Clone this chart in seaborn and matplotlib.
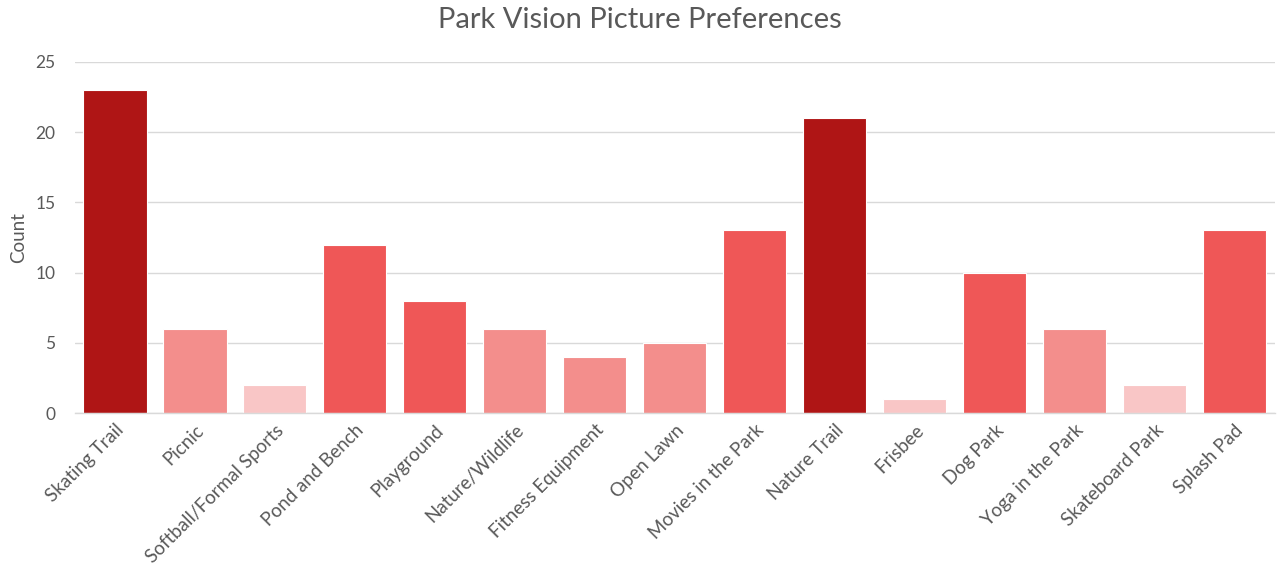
import matplotlib
matplotlib.use("Agg")
import matplotlib.pyplot as plt
import seaborn as sns
import pandas as pd

categories = ["Skating Trail", "Picnic", "Softball/Formal Sports", "Pond and Bench",
              "Playground", "Nature/Wildlife", "Fitness Equipment", "Open Lawn",
              "Movies in the Park", "Nature Trail", "Frisbee", "Dog Park",
              "Yoga in the Park", "Skateboard Park", "Splash Pad"]
counts = [23, 6, 2, 12, 8, 6, 4, 5, 13, 21, 1, 10, 6, 2, 13]


def tier_color(v):
    if v >= 20:
        return "#AF1515"
    if v >= 8:
        return "#EF5757"
    if v >= 4:
        return "#F38E8C"
    return "#F9C6C6"


df = pd.DataFrame({"category": categories, "count": counts})
palette = {c: tier_color(v) for c, v in zip(categories, counts)}

sns.set_style("white")
plt.rcParams["font.family"] = ["Lato", "DejaVu Sans"]
text_col = "#595959"

fig = plt.figure(figsize=(12.79, 5.73), dpi=100)
ax = fig.add_axes([0.0586, 0.279, 0.938, 0.613])

sns.barplot(data=df, x="category", y="count", hue="category", palette=palette,
            saturation=1, width=0.79, edgecolor="white", linewidth=0.8,
            legend=False, ax=ax)

ax.set_ylim(0, 25)
ax.set_xlim(-0.5, len(categories) - 0.5)
ax.set_yticks(range(0, 26, 5))
ax.yaxis.grid(True, color="#D9D9D9", linewidth=1)
ax.set_axisbelow(True)
for s in ["top", "right", "left"]:
    ax.spines[s].set_visible(False)
ax.spines["bottom"].set_color("#D9D9D9")
ax.spines["bottom"].set_linewidth(1)

ax.tick_params(axis="x", length=0, colors=text_col, labelsize=13.5, pad=6)
ax.tick_params(axis="y", length=0, colors=text_col, labelsize=12.5, pad=14)
plt.setp(ax.get_xticklabels(), rotation=45, ha="right", rotation_mode="anchor")
ax.set_xlabel("")
ax.set_ylabel("Count", color=text_col, fontsize=13.5, labelpad=6)
fig.suptitle("Park Vision Picture Preferences", color=text_col, fontsize=21,
             x=0.5, y=0.965, va="center")

fig.savefig("out.png", dpi=100, facecolor="white")
